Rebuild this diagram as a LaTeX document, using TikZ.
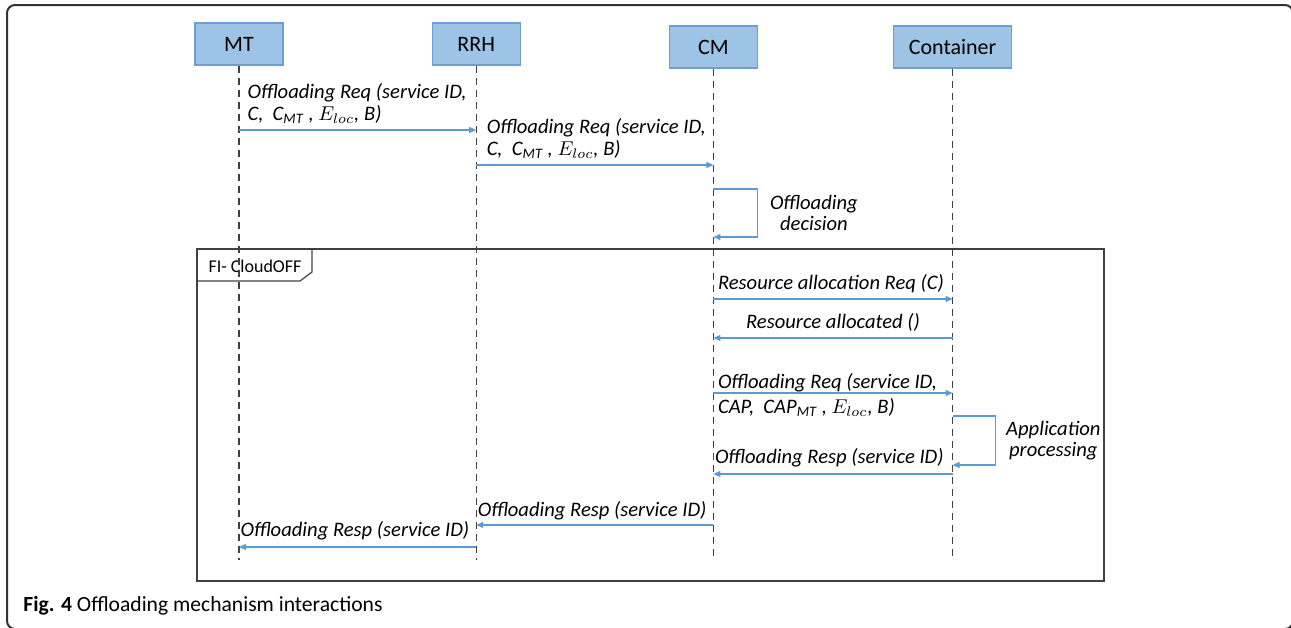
\documentclass[tikz,border=0pt]{standalone}
\usepackage{fontspec}
\setmainfont{Carlito}
\usepackage{tikz}
\usetikzlibrary{arrows.meta,positioning,calc}
\definecolor{boxfill}{RGB}{157,195,230}
\definecolor{boxline}{RGB}{109,158,211}
\definecolor{msgblue}{RGB}{91,155,213}
\definecolor{lifegray}{RGB}{64,64,64}
\tikzset{
  >={Triangle[length=3.5pt,width=3pt]},
  actor/.style={draw=boxline, fill=boxfill, line width=0.6pt, minimum width=44pt, minimum height=21pt, font=\fontsize{11}{12}\selectfont},
  lifeline/.style={draw=lifegray, line width=0.7pt, dash pattern=on 3.5pt off 2.5pt},
  msg/.style={->, draw=msgblue, line width=0.6pt},
  lbl/.style={font=\fontsize{10.3}{10.8}\selectfont\itshape, align=left, inner xsep=2pt, inner ysep=3pt},
  frame/.style={draw=lifegray, line width=1pt},
}

\begin{document}
\begin{tikzpicture}[x=0.5pt, y=-0.5pt]
  \useasboundingbox (0,0) rectangle (1291,627);
  \draw[line width=1pt, draw=black!80, rounded corners=4pt] (7,5) rectangle (1293,629);

  \node[actor] (mt) at (239,44) {MT};
  \node[actor, right=74pt of mt] (rrh) {RRH};
  \node[actor, right=74pt of rrh, yshift=-1.5pt] (cm) {CM};
  \node[actor, minimum width=59pt, right=67.5pt of cm] (ct) {Container};

  % FI-CloudOFF fragment
  \draw[frame] (197,249) rectangle (1104,581);
  \draw[draw=lifegray, line width=0.6pt] (197,281) -- (300,281) -- (312,272) -- (312,249);
  \node[font=\fontsize{9}{10}\selectfont, inner sep=0pt] (fi) at (255,266) {FI- CloudOFF};

  \foreach \a in {mt,rrh,cm,ct} {
    \coordinate (\a-end) at (\a |- 0,560);
    \draw[lifeline] (\a) -- (\a-end);
  }

  \path (mt |- 0,130) coordinate (mt-1) (rrh |- 0,130) coordinate (rrh-1)
        (rrh |- 0,165) coordinate (rrh-2) (cm |- 0,165) coordinate (cm-2)
        (cm |- 0,189) coordinate (cm-d1) (cm |- 0,237) coordinate (cm-d2)
        (cm |- 0,299) coordinate (cm-5) (ct |- 0,299) coordinate (ct-5)
        (cm |- 0,338) coordinate (cm-6) (ct |- 0,338) coordinate (ct-6)
        (cm |- 0,393) coordinate (cm-7) (ct |- 0,393) coordinate (ct-7)
        (ct |- 0,416) coordinate (ct-p1) (ct |- 0,465) coordinate (ct-p2)
        (cm |- 0,474) coordinate (cm-9) (ct |- 0,474) coordinate (ct-9)
        (rrh |- 0,525) coordinate (rrh-10) (cm |- 0,525) coordinate (cm-10)
        (mt |- 0,547) coordinate (mt-11) (rrh |- 0,547) coordinate (rrh-11);

  \draw[msg] (mt-1) -- node[lbl, pos=0, anchor=south west, xshift=2pt] {Offloading Req (service ID,\\C,~~C\textsubscript{MT} , $E_{loc}$, B)} (rrh-1);
  \draw[msg] (rrh-2) -- node[lbl, pos=0, anchor=south west, xshift=3pt] {Offloading Req (service ID,\\C,~~C\textsubscript{MT} , $E_{loc}$, B)} (cm-2);
  \draw[msg] (cm-d1) -- ++(44,0) |- node[lbl, pos=0.25, right=4pt, align=center] {Offloading\\decision} (cm-d2);

  \draw[msg] (cm-5) -- node[lbl, pos=0, anchor=south west] {Resource allocation Req (C)} (ct-5);
  \draw[msg] (ct-6) -- node[lbl, above] {Resource allocated ()} (cm-6);
  \draw[msg] (cm-7) -- node[lbl, pos=0, anchor=west, yshift=-1pt] {Offloading Req (service ID,\\[1.5pt]CAP,~~CAP\textsubscript{MT} , $E_{loc}$, B)} (ct-7);
  \draw[msg] (ct-p1) -- ++(43,0) |- node[lbl, pos=0.25, right=3pt, align=center] {Application\\processing} (ct-p2);
  \draw[msg] (ct-9) -- node[lbl, pos=1, anchor=south west, inner xsep=0.5pt] {Offloading Resp (service ID)} (cm-9);
  \draw[msg] (cm-10) -- node[lbl, pos=1, anchor=south west, inner xsep=0.5pt, inner ysep=2pt] {Offloading Resp (service ID)} (rrh-10);
  \draw[msg] (rrh-11) -- node[lbl, pos=1, anchor=south west, inner xsep=0.5pt] {Offloading Resp (service ID)} (mt-11);

  \node[anchor=west, font=\fontsize{10.8}{12}\selectfont, inner sep=0pt] (cap) at (23,606) {\textbf{Fig. 4} Offloading mechanism interactions};
\end{tikzpicture}
\end{document}
